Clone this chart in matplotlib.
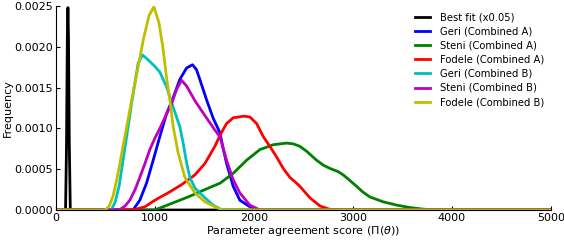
import matplotlib
matplotlib.use("Agg")
import matplotlib.pyplot as plt

labels = ["Best fit (x0.05)", "Geri (Combined A)", "Steni (Combined A)", "Fodele (Combined A)",
          "Geri (Combined B)", "Steni (Combined B)", "Fodele (Combined B)"]
colors = ["k", "b", "g", "r", "c", "m", "y"]

best_x = [0, 98, 108, 116, 122, 128, 136, 146, 5000]
best_y = [0, 0, 0.0008, 0.0021, 0.00248, 0.0021, 0.0008, 0, 0]

geriA_x = [0, 780, 848, 916, 983, 1050, 1118, 1185, 1252, 1320, 1380, 1420, 1454, 1522, 1590,
           1656, 1690, 1724, 1791, 1858, 1959, 2050, 5000]
geriA_y = [0, 0, 0.00012, 0.00033, 0.00061, 0.0009, 0.00118, 0.00138, 0.0016, 0.00174, 0.00178,
           0.00172, 0.0016, 0.00135, 0.00112, 0.00095, 0.00075, 0.00057, 0.00029, 0.00012,
           0.00004, 0, 0]

steniA_x = [0, 1000, 1168, 1336, 1505, 1660, 1791, 1926, 2060, 2195, 2330, 2400, 2464, 2532,
            2633, 2700, 2767, 2850, 2902, 2970, 3037, 3100, 3171, 3306, 3441, 3575, 3710, 3850, 5000]
steniA_y = [0, 0, 0.00008, 0.00016, 0.00025, 0.00033, 0.00045, 0.00061, 0.00074, 0.0008, 0.00082,
            0.00081, 0.00078, 0.00072, 0.00061, 0.00055, 0.00051, 0.00047, 0.00043, 0.00036,
            0.00029, 0.00022, 0.00016, 0.0001, 0.00006, 0.00003, 0.00001, 0, 0]

fodeleA_x = [0, 780, 900, 1000, 1134, 1269, 1404, 1505, 1606, 1660, 1724, 1791, 1900, 1959,
             2027, 2094, 2161, 2229, 2296, 2363, 2420, 2464, 2565, 2666, 2760, 2850, 5000]
fodeleA_y = [0, 0, 0.00004, 0.00012, 0.00021, 0.00031, 0.00043, 0.00057, 0.00078, 0.00092,
             0.00106, 0.00113, 0.00115, 0.00114, 0.00106, 0.0009, 0.00078, 0.00065, 0.00051,
             0.0004, 0.00034, 0.00029, 0.00015, 0.00005, 0.00001, 0, 0]

geriB_x = [0, 560, 600, 640, 680, 730, 764, 798, 831, 875, 932, 1000, 1050, 1118, 1185,
           1252, 1286, 1320, 1353, 1404, 1505, 1589, 1680, 5000]
geriB_y = [0, 0, 0.0001, 0.0003, 0.00062, 0.00102, 0.0013, 0.00155, 0.0018, 0.0019,
           0.00184, 0.00176, 0.00169, 0.00151, 0.00126, 0.00102, 0.00082, 0.00058, 0.0004,
           0.00027, 0.00015, 0.00006, 0, 0]

steniB_x = [0, 640, 700, 747, 800, 848, 900, 949, 1000, 1050, 1100, 1168, 1220, 1269, 1320,
            1404, 1470, 1538, 1606, 1656, 1724, 1791, 1858, 1959, 2060, 5000]
steniB_y = [0, 0, 0.00005, 0.00012, 0.00025, 0.0004, 0.00057, 0.00074, 0.00088, 0.001, 0.00113,
            0.0013, 0.00148, 0.00159, 0.00152, 0.00134, 0.00122, 0.0011, 0.00098, 0.0009,
            0.00061, 0.00037, 0.00021, 0.00006, 0, 0]

fodeleB_x = [0, 500, 540, 580, 620, 660, 700, 740, 781, 830, 882, 940, 990, 1040, 1080, 1120,
             1151, 1185, 1235, 1303, 1404, 1505, 1606, 1680, 5000]
fodeleB_y = [0, 0, 0.00005, 0.00018, 0.0004, 0.00066, 0.00092, 0.00118, 0.00145, 0.00175,
             0.00208, 0.00238, 0.00249, 0.0023, 0.002, 0.0016, 0.00135, 0.00102, 0.0007, 0.0004,
             0.00021, 0.0001, 0.00004, 0, 0]

series = [(best_x, best_y), (geriA_x, geriA_y), (steniA_x, steniA_y), (fodeleA_x, fodeleA_y),
          (geriB_x, geriB_y), (steniB_x, steniB_y), (fodeleB_x, fodeleB_y)]

xticks = [0, 1000, 2000, 3000, 4000, 5000]
yticks = [0.0, 0.0005, 0.0010, 0.0015, 0.0020, 0.0025]
ytick_labels = ["0.0000", "0.0005", "0.0010", "0.0015", "0.0020", "0.0025"]

fig = plt.figure(figsize=(5.64, 2.4), dpi=100)
ax = fig.add_axes([0.099, 0.125, 0.878, 0.85])
for (xs, ys), c, lab in zip(series, colors, labels):
    ax.plot(xs, ys, color=c, lw=2, label=lab, solid_joinstyle="round")

ax.set_xlim(0, 5000)
ax.set_ylim(0, 0.0025)
ax.set_xticks(xticks)
ax.set_yticks(yticks)
ax.set_yticklabels(ytick_labels)
ax.tick_params(direction="in", labelsize=8, length=3, pad=2, top=False, right=False)
for s in ["top", "right"]:
    ax.spines[s].set_visible(False)
ax.set_xlabel(r"Parameter agreement score ($\Pi(\theta)$)", fontsize=8, labelpad=1)
ax.set_ylabel("Frequency", fontsize=8, labelpad=1)
ax.legend(loc="upper left", bbox_to_anchor=(415 / 564, 1 - 12 / 240),
          bbox_transform=fig.transFigure, frameon=False, fontsize=7.2, borderpad=0,
          borderaxespad=0, handlelength=1.5, labelspacing=0.42, handletextpad=1.0)
fig.savefig("out.png", dpi=100)
